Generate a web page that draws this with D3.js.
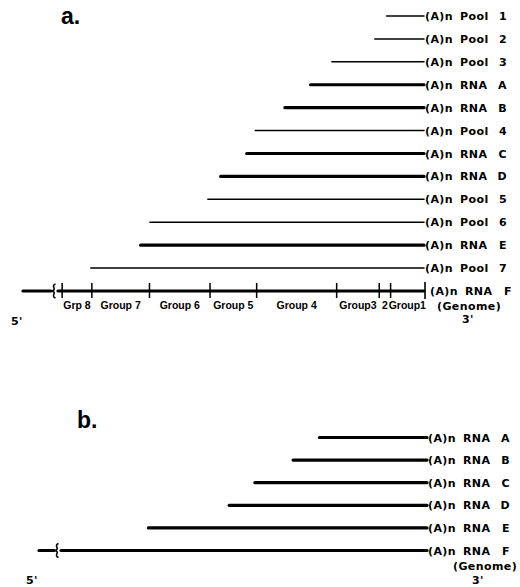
<!DOCTYPE html>
<html>
<head>
<meta charset="utf-8">
<script src="https://cdn.jsdelivr.net/npm/d3@7"></script>
<style>
  body { margin: 0; background: #fff; }
  svg { display: block; }
  .lbl { font-family: "DejaVu Sans", sans-serif; font-weight: bold; font-size: 11px; letter-spacing: 0.4px; fill: #000; }
  .grp { font-family: "Liberation Sans", Arial, sans-serif; font-weight: bold; font-size: 10.5px; fill: #000; }
  .panel { font-family: "Liberation Sans", Arial, sans-serif; font-weight: bold; font-size: 23px; fill: #000; }
</style>
</head>
<body>
<svg id="chart" width="520" height="587"></svg>
<script>
// Panel a: transcripts, 5' start given as distance from the 3' end (break = 100)
const namesA = ["Pool 1", "Pool 2", "Pool 3", "RNA A", "RNA B", "Pool 4", "RNA C",
                "RNA D", "Pool 5", "Pool 6", "RNA E", "Pool 7", "RNA F"];
const startsA = [10.2, 13.4, 25.1, 30.9, 37.9, 46.0, 48.3, 55.4, 58.9, 74.7, 77.2, 90.8, 100];

// Group boundaries on the genome line of panel a
const groupTicks = [98.6, 90.5, 74.8, 58.3, 45.6, 23.8, 12.2, 9.1];
const groupLabels = ["Grp 8", "Group 7", "Group 6", "Group 5", "Group 4", "Group3", "2", "Group1"];

// Panel b: RNAs only
const namesB = ["RNA A", "RNA B", "RNA C", "RNA D", "RNA E", "RNA F"];
const startsB = [29.3, 36.5, 46.9, 53.9, 75.9, 100];

const svg = d3.select("#chart");

const isThick = name => name.startsWith("RNA");

/** Draw one panel of lines ending at the 3' poly(A) tail */
function drawPanel(names, starts, x, y, withGroups, stubLen) {
  const g = svg.append("g");
  const xEnd = x(0);

  names.forEach((name, i) => {
    const cy = y(name);
    const genome = name === "RNA F";
    const x1 = genome ? x(starts[i]) + 1 : x(starts[i]);

    g.append("line")
      .attr("x1", x1)
      .attr("x2", xEnd)
      .attr("y1", cy)
      .attr("y2", cy)
      .attr("stroke", "#000")
      .attr("stroke-width", isThick(name) ? 3.2 : 1.5)
      .attr("stroke-linecap", "round");

    if (genome) {
      // Leading stub before the break
      const xb = x(100);
      g.append("line")
        .attr("x1", xb - stubLen).attr("x2", xb - 6)
        .attr("y1", cy).attr("y2", cy)
        .attr("stroke", "#000").attr("stroke-width", 3.2)
        .attr("stroke-linecap", "round");

      // Curly break mark
      const bx = xb - 3;
      g.append("path")
        .attr("d", `M${bx + 1.5},${cy - 7} Q${bx - 1.5},${cy - 6} ${bx},${cy - 3}` +
                   ` Q${bx + 1},${cy - 1} ${bx - 2},${cy}` +
                   ` Q${bx + 1},${cy + 1} ${bx},${cy + 3}` +
                   ` Q${bx - 1.5},${cy + 6} ${bx + 1.5},${cy + 7}`)
        .attr("fill", "none")
        .attr("stroke", "#000")
        .attr("stroke-width", 1.6);
    }

    // Label: (A)n, word, trailing token
    const parts = name.split(" ");
    const tx = xEnd + (genome && withGroups ? 6 : 1);
    g.append("text").attr("class", "lbl")
      .attr("x", tx).attr("y", cy + 4).text("(A)n");
    g.append("text").attr("class", "lbl")
      .attr("x", tx + 35).attr("y", cy + 4).text(parts[0]);
    g.append("text").attr("class", "lbl")
      .attr("x", tx + 82).attr("y", cy + 4)
      .attr("text-anchor", "end").text(parts[1]);
  });

  if (withGroups) {
    const cy = y("RNA F");

    // Group boundary ticks plus the 3' end bar
    g.selectAll("line.tick")
      .data(groupTicks)
      .enter()
      .append("line")
      .attr("class", "tick")
      .attr("x1", d => x(d)).attr("x2", d => x(d))
      .attr("y1", cy - 8).attr("y2", cy + 7)
      .attr("stroke", "#000").attr("stroke-width", 1.5);

    g.append("line")
      .attr("x1", xEnd + 1).attr("x2", xEnd + 1)
      .attr("y1", cy - 9).attr("y2", cy + 8)
      .attr("stroke", "#000").attr("stroke-width", 1.6);

    // Labels centred between consecutive boundaries
    const bounds = groupTicks.concat([0]);
    g.selectAll("text.grp")
      .data(groupLabels)
      .enter()
      .append("text")
      .attr("class", "grp")
      .attr("x", (d, i) => (x(bounds[i]) + x(bounds[i + 1])) / 2)
      .attr("y", cy + 18)
      .attr("text-anchor", "middle")
      .text(d => d);
  }
  return g;
}

// Panel a
const xA = d3.scaleLinear().domain([0, 100]).range([424, 57]);
const yA = d3.scalePoint().domain(namesA).range([16, 291]);
drawPanel(namesA, startsA, xA, yA, true, 34);

svg.append("text").attr("class", "panel").attr("x", 61).attr("y", 24).text("a.");
svg.append("text").attr("class", "lbl").attr("x", 437).attr("y", 310).text("(Genome)");
svg.append("text").attr("class", "lbl").attr("x", 462).attr("y", 323).text("3'");
svg.append("text").attr("class", "lbl").attr("x", 11).attr("y", 325).text("5'");

// Panel b
const xB = d3.scaleLinear().domain([0, 100]).range([427, 60]);
const yB = d3.scalePoint().domain(namesB).range([437.5, 550.5]);
drawPanel(namesB, startsB, xB, yB, false, 21);

svg.append("text").attr("class", "panel").attr("x", 77).attr("y", 428).text("b.");
svg.append("text").attr("class", "lbl").attr("x", 453).attr("y", 570).text("(Genome)");
svg.append("text").attr("class", "lbl").attr("x", 472).attr("y", 584).text("3'");
svg.append("text").attr("class", "lbl").attr("x", 26).attr("y", 584).text("5'");
</script>
</body>
</html>
